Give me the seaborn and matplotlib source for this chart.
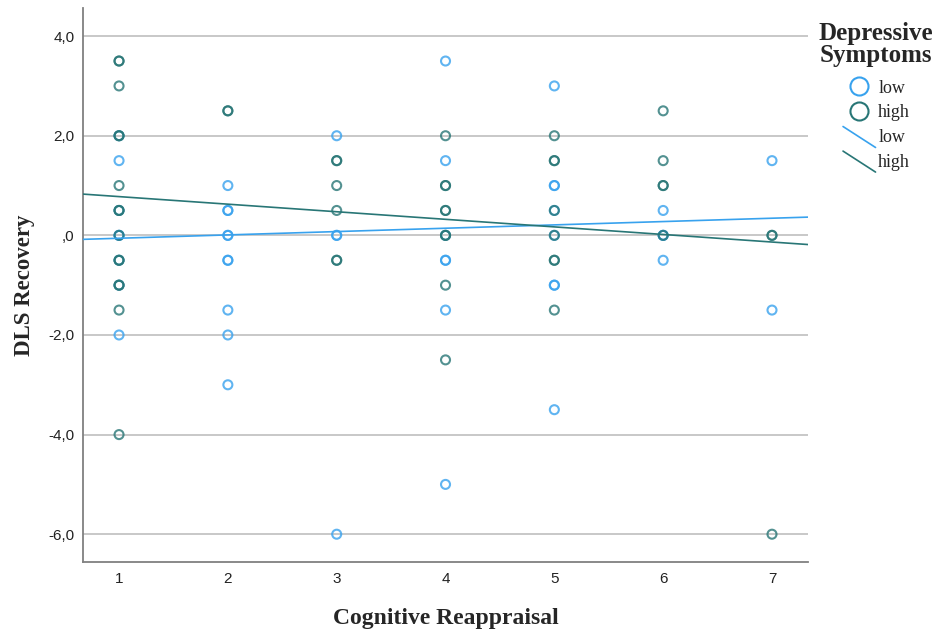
import pandas as pd
import matplotlib
matplotlib.use('Agg')
import matplotlib.pyplot as plt
import seaborn as sns
from matplotlib.lines import Line2D
from matplotlib.legend_handler import HandlerBase

# scores (repeated values = overlapping circles)
low_x = [1, 1, 1, 1, 1, 1, 1, 1,
         2, 2, 2, 2, 2, 2, 2, 2, 2, 2,
         3, 3, 3, 3,
         4, 4, 4, 4, 4, 4, 4,
         5, 5, 5, 5, 5, 5, 5, 5,
         6, 6, 6, 6,
         7, 7]
low_y = [2.0, 1.5, 0.5, 0, 0, -0.5, -1.0, -2.0,
         1.0, 0.5, 0.5, 0, 0, -0.5, -0.5, -1.5, -2.0, -3.0,
         2.0, 0, 0, -6.0,
         3.5, 1.5, 0, -0.5, -0.5, -1.5, -5.0,
         3.0, 1.0, 1.0, 0.5, 0, -1.0, -1.0, -3.5,
         0.5, 0, 0, -0.5,
         1.5, -1.5]
high_x = [1, 1, 1, 1, 1, 1, 1, 1, 1, 1, 1, 1, 1, 1, 1,
          2, 2,
          3, 3, 3, 3, 3, 3,
          4, 4, 4, 4, 4, 4, 4, 4, 4,
          5, 5, 5, 5, 5, 5, 5, 5,
          6, 6, 6, 6, 6,
          7, 7, 7]
high_y = [3.5, 3.5, 3.0, 2.0, 2.0, 1.0, 0.5, 0.5, 0, -0.5, -0.5, -1.0, -1.0, -1.5, -4.0,
          2.5, 2.5,
          1.5, 1.5, 1.0, 0.5, -0.5, -0.5,
          2.0, 1.0, 1.0, 0.5, 0.5, 0, 0, -1.0, -2.5,
          2.0, 1.5, 1.5, 0.5, 0, -0.5, -0.5, -1.5,
          2.5, 1.5, 1.0, 1.0, 0,
          0, 0, -6.0]

# fit lines (intercept, slope)
fit_low = (-0.125, 0.067)
fit_high = (0.93, -0.152)

groups = ['low', 'high']
colors = {'low': '#38A2EE', 'high': '#287676'}
y_ticks = [4, 2, 0, -2, -4, -6]
y_tick_labels = ['4,0', '2,0', ',0', '-2,0', '-4,0', '-6,0']
x_ticks = [1, 2, 3, 4, 5, 6, 7]

df = pd.concat([
    pd.DataFrame({'CR': low_x, 'DLS': low_y, 'group': 'low'}),
    pd.DataFrame({'CR': high_x, 'DLS': high_y, 'group': 'high'}),
])

sns.set_style('white')
plt.rcParams['font.family'] = ['Liberation Serif', 'DejaVu Serif']

fig = plt.figure(figsize=(9.34, 6.33), dpi=100)
ax = fig.add_axes([0.089, 0.112, 0.776, 0.875])

for g in groups:
    sub = df[df['group'] == g]
    sns.scatterplot(data=sub, x='CR', y='DLS', ax=ax, s=42, facecolor='none',
                    edgecolor=colors[g], linewidth=1.5, alpha=0.8, legend=False)

ax.set_xlim(0.67, 7.33)
ax.set_ylim(-6.56, 4.56)
for g, (b0, b1) in zip(groups, [fit_low, fit_high]):
    ax.axline((0, b0), slope=b1, color=colors[g], lw=1.2, zorder=3)

ax.set_yticks(y_ticks)
ax.set_yticklabels(y_tick_labels)
ax.set_xticks(x_ticks)
ax.tick_params(axis='both', labelsize=11, length=0, colors='#222222')
ax.tick_params(axis='x', pad=7)
ax.tick_params(axis='y', pad=6)
for t in ax.get_xticklabels() + ax.get_yticklabels():
    t.set_family(['Liberation Sans', 'DejaVu Sans'])
ax.yaxis.grid(True, color='#BFBFBF', lw=1.2)
ax.set_axisbelow(True)
sns.despine(ax=ax)
for s in ['left', 'bottom']:
    ax.spines[s].set_color('#808080')
    ax.spines[s].set_linewidth(1.3)

ax.set_xlabel('Cognitive Reappraisal', fontsize=17, fontweight='bold', labelpad=16)
ax.set_ylabel('DLS Recovery', fontsize=16.5, fontweight='bold', labelpad=10)


class DiagLine(HandlerBase):
    def create_artists(self, legend, orig_handle, xdescent, ydescent,
                       width, height, fontsize, trans):
        ln = Line2D([-xdescent, -xdescent + width], [height + 2, -4],
                    color=orig_handle.get_color(), lw=1.2, transform=trans)
        return [ln]


fig.text(0.938, 0.966, 'Depressive\nSymptoms', ha='center', va='top',
         fontsize=18, fontweight='bold', linespacing=0.95)

handles = [Line2D([], [], marker='o', ls='', mfc='none', mec=colors['low'], ms=13, mew=1.5),
           Line2D([], [], marker='o', ls='', mfc='none', mec=colors['high'], ms=13, mew=1.5),
           Line2D([], [], color=colors['low']),
           Line2D([], [], color=colors['high'])]
labels = ['low', 'high', 'low', 'high']
hm = {handles[2]: DiagLine(), handles[3]: DiagLine()}
leg = fig.legend(handles, labels, handler_map=hm, loc='upper left',
                 bbox_to_anchor=(0.9026, 0.874), frameon=False, borderpad=0,
                 borderaxespad=0, fontsize=13, handlelength=1.8, handletextpad=0.15,
                 labelspacing=0.42)

fig.savefig('out.png', dpi=100)
